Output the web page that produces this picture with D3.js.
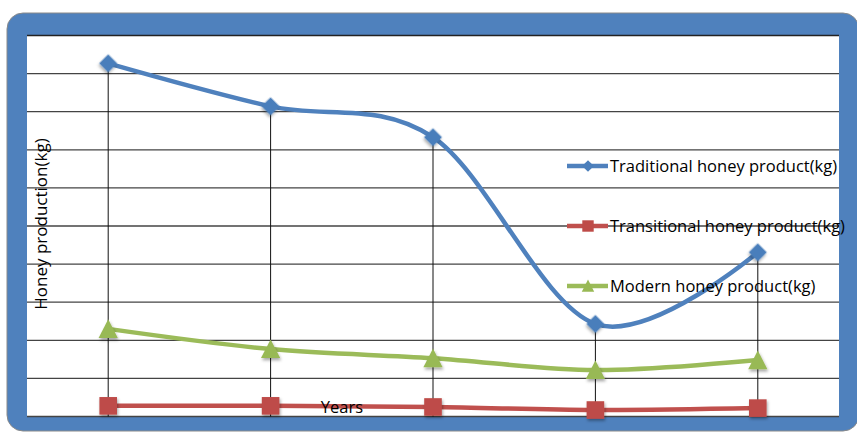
<!DOCTYPE html>
<html>
<head>
<meta charset="utf-8">
<script src="https://cdn.jsdelivr.net/npm/d3@7"></script>
<style>
body { margin: 0; background: #fff; }
svg { display: block; font-family: "Open Sans", sans-serif; }
</style>
</head>
<body>
<svg id="chart" width="857" height="432"></svg>
<script>
// data (grid units x100, no tick labels shown)
var years = ["Y1", "Y2", "Y3", "Y4", "Y5"];
var traditional = [927, 814, 733, 243, 431];
var transitional = [28, 28, 25, 17, 22];
var modern = [230, 177, 153, 122, 148];
var seriesNames = ["Traditional honey product(kg)", "Transitional honey product(kg)", "Modern honey product(kg)"];
var yTicks = [0, 100, 200, 300, 400, 500, 600, 700, 800, 900, 1000];

var colors = ["#4F81BD", "#C0504D", "#9BBB59"];
var markerFill = ["#4A7EBB", "#BE4B48", "#98B954"];
var shapes = [d3.symbolSquare, d3.symbolSquare, d3.symbolTriangle];
var sizes = [162, 310, 160];

function markerTransform(k, x, y, scale) {
    // diamond = rotated square, triangle nudged so its box centre sits on the point
    if (k == 0) return "translate(" + x + "," + y + ") rotate(45)";
    if (k == 2) return "translate(" + x + "," + (y + 2.8 * scale) + ") scale(1,1.12)";
    return "translate(" + x + "," + y + ")";
}

var svg = d3.select("#chart");
var plotL = 27, plotR = 839, plotT = 35.5, plotB = 416.5;

var defs = svg.append("defs");
var f = defs.append("filter").attr("id", "shadow").attr("x", "-50%").attr("y", "-50%").attr("width", "200%").attr("height", "200%");
f.append("feDropShadow").attr("dx", 1).attr("dy", 2).attr("stdDeviation", 1.5).attr("flood-color", "#000").attr("flood-opacity", 0.35);

// blue frame
svg.append("rect")
    .attr("x", 7).attr("y", 13).attr("width", 852).attr("height", 418)
    .attr("rx", 16).attr("ry", 16)
    .style("fill", "#4F81BD").style("stroke", "#8a8a8a").style("stroke-width", 1);
svg.append("rect")
    .attr("x", plotL).attr("y", plotT).attr("width", plotR - plotL).attr("height", plotB - plotT)
    .style("fill", "#fff");

var xScale = d3.scalePoint().domain(years).range([plotL, plotR]).padding(0.5);
var yScale = d3.scaleLinear().domain([0, 1000]).range([plotB, plotT]);

// horizontal gridlines
svg.append("g").selectAll("line").data(yTicks).enter().append("line")
    .attr("x1", plotL).attr("x2", plotR)
    .attr("y1", function (d) { return yScale(d); })
    .attr("y2", function (d) { return yScale(d); })
    .style("stroke", function (d) { return d == 1000 ? "#222" : "#444"; })
    .style("stroke-width", 1.3);

var all = [traditional, transitional, modern];

// drop lines from highest point to the bottom
svg.append("g").selectAll("line").data(years).enter().append("line")
    .attr("x1", function (d) { return xScale(d); })
    .attr("x2", function (d) { return xScale(d); })
    .attr("y1", function (d, i) { return yScale(d3.max(all, function (s) { return s[i]; })); })
    .attr("y2", plotB)
    .style("stroke", "#111").style("stroke-width", 1);

var line = d3.line()
    .x(function (d, i) { return xScale(years[i]); })
    .y(function (d) { return yScale(d); })
    .curve(d3.curveCardinal.tension(0));

all.forEach(function (s, k) {
    svg.append("path")
        .attr("d", line(s))
        .style("fill", "none").style("stroke", colors[k]).style("stroke-width", 4.5);
});

all.forEach(function (s, k) {
    svg.append("g").selectAll("path").data(s).enter().append("path")
        .attr("transform", function (d, i) { return markerTransform(k, xScale(years[i]), yScale(d), 1); })
        .attr("d", d3.symbol().type(shapes[k]).size(sizes[k]))
        .attr("filter", "url(#shadow)")
        .style("fill", markerFill[k]);
});

// legend
var legendY = [166, 226, 286];
seriesNames.forEach(function (name, k) {
    var g = svg.append("g");
    g.append("line").attr("x1", 567).attr("x2", 608).attr("y1", legendY[k]).attr("y2", legendY[k])
        .style("stroke", colors[k]).style("stroke-width", 4.5);
    g.append("path")
        .attr("transform", markerTransform(k, 588, legendY[k], 0.6))
        .attr("d", d3.symbol().type(shapes[k]).size(sizes[k] * 0.42))
        .style("fill", markerFill[k]);
    g.append("text").attr("x", 610).attr("y", legendY[k] + 6)
        .style("font-size", "16.5px").style("fill", "#000")
        .text(name);
});

// axis titles
svg.append("text")
    .attr("transform", "translate(47,224) rotate(-90)")
    .attr("text-anchor", "middle")
    .style("font-size", "17px")
    .text("Honey production(kg)");
svg.append("text")
    .attr("x", 342).attr("y", 413)
    .attr("text-anchor", "middle")
    .style("font-size", "16.5px")
    .text("Years");
</script>
</body>
</html>
